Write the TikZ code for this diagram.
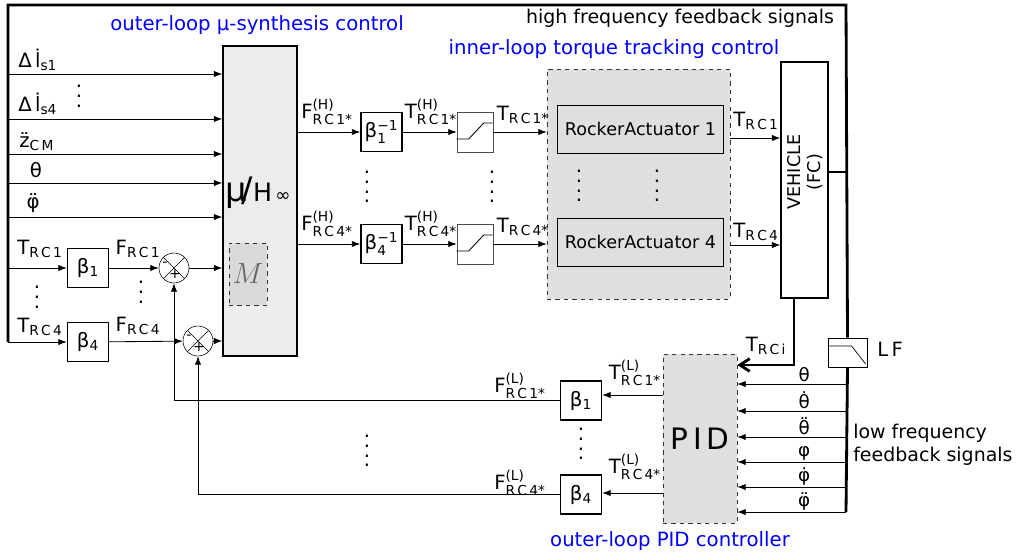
\documentclass[tikz,border=0pt]{standalone}
\usepackage{amsmath}
\usepackage{fontspec}
\setmainfont{DejaVu Sans}
\usetikzlibrary{arrows.meta,positioning}

\newcommand{\sig}[3]{#1$^{\text{#2}}_{\text{#3}}$}
\newcommand{\vdts}{\vbox{\baselineskip=7pt\lineskiplimit=0pt\hbox{.}\hbox{.}\hbox{.}\hbox{.}}}
\newcommand{\vdtsshort}{\vbox{\baselineskip=7pt\lineskiplimit=0pt\hbox{.}\hbox{.}\hbox{.}}}

\begin{document}
\begin{tikzpicture}[x=0.025cm, y=-0.025cm,
  font=\fontsize{14}{16.5}\selectfont,
  blk/.style={draw, line width=0.9pt, fill=white, minimum width=1.03cm, minimum height=0.975cm, inner sep=0pt},
  satbox/.style={draw=black!70, fill=white, minimum width=0.9cm, minimum height=1cm, inner sep=0pt},
  grp/.style={draw=black!80, dashed, fill=gray!25, inner sep=0pt},
  actbox/.style={draw, line width=0.7pt, fill=gray!25, minimum width=4.125cm, minimum height=1.2cm, font=\fontsize{12.5}{14}\selectfont},
  sumnode/.style={draw, circle, fill=white, minimum size=0.75cm, inner sep=0pt,
    path picture={\draw (path picture bounding box.north west) -- (path picture bounding box.south east)
      (path picture bounding box.north east) -- (path picture bounding box.south west);}},
  arr/.style={-{Latex[length=6pt,width=4.5pt]}, line width=0.6pt},
  bus/.style={line width=2pt},
  lbl/.style={inner sep=0pt},
  title/.style={text=blue, inner sep=0pt},
  sgn/.style={font=\fontsize{10}{11}\selectfont, inner sep=0pt}
]
  \useasboundingbox (0,0) rectangle (1016,559);

  \node[draw, line width=0.9pt, fill=gray!15, minimum width=1.85cm, minimum height=7.75cm] (mu) at (260,201) {};
  \node[grp, fill=gray!30, minimum width=0.95cm, minimum height=1.55cm] (mbox) at (248,274) {};
  \node[text=gray!80!black, font=\fontsize{20}{22}\selectfont] (mlbl) at (248,274) {$M$};
  \node[lbl] (hinf) at (258,193) {{\fontsize{24}{26}\selectfont μ\kern-0.15em/}{\fontsize{18}{20}\selectfont H}\,{\fontsize{13}{15}\selectfont ∞}};

  \node[blk] (b1) at (88,268) {β$_{\text{1}}$};
  \node[blk] (b4) at (88,342) {β$_{\text{4}}$};
  \node[sumnode] (s1) at (174,268) {};
  \node[sumnode] (s2) at (198,341) {};
  \node[sgn] (s1m) at ([shift={(-9,-4)}]s1.center) {-};
  \node[sgn] (s1p) at ([shift={(1,6)}]s1.center) {+};
  \node[sgn] (s2m) at ([shift={(-9,-4)}]s2.center) {-};
  \node[sgn] (s2p) at ([shift={(1,6)}]s2.center) {+};

  \node[blk] (bi1) at (381.5,132) {β$^{\text{−1}}_{\text{1}}$};
  \node[blk] (bi4) at (381.5,244) {β$^{\text{−1}}_{\text{4}}$};
  \node[satbox] (sat1) at (475,132) {};
  \node[satbox] (sat4) at (475,244) {};
  \node[grp, minimum width=4.575cm, minimum height=5.75cm] (inner) at (638.5,184) {};
  \node[actbox] (ra1) at (640.5,129) {RockerActuator 1};
  \node[actbox] (ra4) at (640.5,242) {RockerActuator 4};
  \node[draw, line width=0.9pt, fill=white, minimum width=1.175cm, minimum height=5.9cm] (veh) at (804.5,180) {};
  \node[lbl, rotate=90, align=center, font=\fontsize{12.5}{14}\selectfont] (vehl) at (805,172) {VEHICLE\\(FC)};

  \node[grp, minimum width=1.85cm, minimum height=4.225cm, font=\fontsize{21}{23}\selectfont] (pid) at (700,438.5) {P\,I\,D};
  \node[blk] (lb1) at (581,400.5) {β$_{\text{1}}$};
  \node[blk] (lb4) at (581,494.5) {β$_{\text{4}}$};
  \node[draw, fill=white, line width=0.6pt, minimum width=0.975cm, minimum height=0.725cm, inner sep=0pt] (lf) at (847.5,352.5) {};
  \draw[line width=0.5pt] (lf.west) ++(0,-6.5) -- ++(24,0) -- ++(14,18);

  \draw[bus] (8,342) -- (8,5) -- (846,5) -- (lf.north);
  \draw[bus] (lf.south) -- (846,512);
  \draw[bus] (veh.east |- 846,172) -- (846,172);
  \draw[bus, -{Straight Barb[length=7pt,width=9pt]}] (veh.south -| 794,0) |- (pid.east |- 0,365);

  \foreach \yy in {74,119,154,183,217}
    \draw[arr] (8,\yy) -- (mu.west |- 8,\yy);
  \draw[arr] (8,268) -- (b1);
  \draw[arr] (8,342) -- (b4);
  \draw[arr] (b1) -- (s1);
  \draw[arr] (b4) -- (s2);
  \draw[arr] (s1) -- (s1 -| mu.west);
  \draw[arr] (s2) -- (s2 -| mu.west);

  \draw[arr] (mu.east |- bi1) -- (bi1);
  \draw[arr] (mu.east |- bi4) -- (bi4);
  \draw[arr] (bi1) -- (sat1);
  \draw[arr] (bi4) -- (sat4);
  \draw[arr] (sat1) -- (sat1 -| inner.west);
  \draw[arr] (sat4) -- (sat4 -| inner.west);
  \foreach \s in {sat1,sat4}
    \draw[line width=0.6pt] (\s.west) ++(0,7) -- ++(12,0) -- ++(15,-16) -- ++(9,0);
  \draw[arr] (inner.east |- 0,138) -- (veh.west |- 0,138);
  \draw[arr] (inner.east |- 0,245) -- (veh.west |- 0,245);

  \draw[arr] (pid.west |- 0,395) -- (lb1.east |- 0,395);
  \draw[arr] (pid.west |- 0,493) -- (lb4.east |- 0,493);
  \draw[arr] (lb1.west) -| (s1.south);
  \draw[arr] (lb4.west) -| (s2.south);

  \foreach \yy/\sym [count=\i] in {384/θ, 411/θ̇, 437/θ̈, 462/φ, 487/φ̇, 512/φ̈}
    \draw[arr] (846,\yy) -- (pid.east |- 846,\yy) node[lbl, pos=0.385, above=1pt, font=\fontsize{13}{15}\selectfont] (fb\i) {\sym};

  \node[title] (ttop1) at (257,25) {outer-loop μ-synthesis control};
  \node[lbl, font=\fontsize{13.5}{16}\selectfont] (ttop2) at (680,18) {high frequency feedback signals};
  \node[title] (ttop3) at (614,49) {inner-loop torque tracking control};
  \node[title] (tbot) at (670,541) {outer-loop PID controller};
  \node[lbl, align=left, anchor=west, font=\fontsize{13.5}{16}\selectfont] (lowf) at (853,445) {low frequency\\feedback signals};
  \node[lbl, anchor=west] (lfl) at (877,349) {L\,F};

  \node[lbl, anchor=west] (lin1) at (18,60) {Δ\,l̇$_{\text{s1}}$};
  \node[lbl, anchor=west] (lin4) at (18,104) {Δ\,l̇$_{\text{s4}}$};
  \node[lbl, anchor=west] (lzcm) at (19,142) {z̈$_{\text{C\,M}}$};
  \node[lbl] (lth) at (36,170) {θ};
  \node[lbl] (lphi) at (33,203) {φ̈};
  \node[lbl] (lt1) at (40,249) {T$_{\text{R\,C\,1}}$};
  \node[lbl] (lt4) at (40,327) {T$_{\text{R\,C\,4}}$};
  \node[lbl] (lf1) at (138,249) {F$_{\text{R\,C\,1}}$};
  \node[lbl] (lf4) at (138,326) {F$_{\text{R\,C\,4}}$};

  \node[lbl] (lfh1) at (327,112) {\sig{F}{(H)}{R\,C\,1*}};
  \node[lbl] (lfh4) at (327,224) {\sig{F}{(H)}{R\,C\,4*}};
  \node[lbl] (lth1) at (431,112) {\sig{T}{(H)}{R\,C\,1*}};
  \node[lbl] (lth4) at (431,224) {\sig{T}{(H)}{R\,C\,4*}};
  \node[lbl] (lts1) at (523,115) {T$_{\text{R\,C\,1*}}$};
  \node[lbl] (lts4) at (523,227) {T$_{\text{R\,C\,4*}}$};
  \node[lbl] (lto1) at (756,121) {T$_{\text{R\,C\,1}}$};
  \node[lbl] (lto4) at (756,232) {T$_{\text{R\,C\,4}}$};
  \node[lbl] (ltrci) at (766,346) {T$_{\text{R\,C\,i}}$};
  \node[lbl] (ltl1) at (635,373) {\sig{T}{(L)}{R\,C\,1*}};
  \node[lbl] (ltl4) at (635,467) {\sig{T}{(L)}{R\,C\,4*}};
  \node[lbl] (lfl1) at (520,386) {\sig{F}{(L)}{R\,C\,1*}};
  \node[lbl] (lfl4) at (520,483) {\sig{F}{(L)}{R\,C\,4*}};

  \node[lbl] (d1) at (79,96) {\vdtsshort};
  \node[lbl] (d2) at (37,297) {\vdtsshort};
  \node[lbl] (d3) at (141,292) {\vdtsshort};
  \node[lbl] (d4) at (367,187) {\vdts};
  \node[lbl] (d5) at (492,187) {\vdts};
  \node[lbl] (d6) at (579,186) {\vdts};
  \node[lbl] (d7) at (657,186) {\vdts};
  \node[lbl] (d8) at (367,451) {\vdts};
  \node[lbl] (d9) at (581,444) {\vdts};
\end{tikzpicture}
\end{document}
